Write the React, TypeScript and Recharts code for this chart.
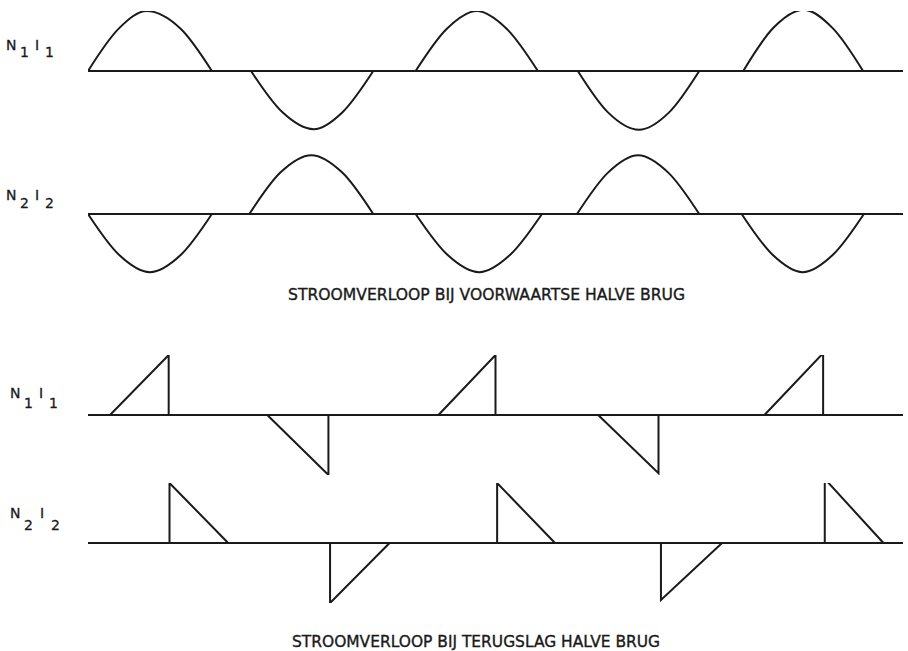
import { LineChart, Line, XAxis, YAxis } from 'recharts';

// time axis in arbitrary units (0..50), amplitude normalised to ±1
const baseline = [
  { t: 0, v: 0 },
  { t: 50, v: 0 },
];

// forward half bridge: sine-shaped current pulses
// (start, quarter, peak, three-quarter, end per pulse)
const fwdN1I1 = [
  { t: 0, v: 0 }, { t: 1.9, v: 0.71 }, { t: 3.6, v: 1 }, { t: 5.7, v: 0.7 }, { t: 7.6, v: 0 }, { t: 8.8, v: null },
  { t: 10.0, v: 0 }, { t: 11.9, v: -0.68 }, { t: 13.85, v: -0.97 }, { t: 15.6, v: -0.69 }, { t: 17.5, v: 0 }, { t: 18.8, v: null },
  { t: 20.1, v: 0 }, { t: 22.0, v: 0.7 }, { t: 23.85, v: 1 }, { t: 25.7, v: 0.7 }, { t: 27.6, v: 0 }, { t: 28.8, v: null },
  { t: 30.05, v: 0 }, { t: 31.9, v: -0.69 }, { t: 33.8, v: -0.98 }, { t: 35.65, v: -0.69 }, { t: 37.5, v: 0 }, { t: 38.8, v: null },
  { t: 40.2, v: 0 }, { t: 42.05, v: 0.72 }, { t: 43.9, v: 1.02 }, { t: 45.7, v: 0.71 }, { t: 47.55, v: 0 },
];

const fwdN2I2 = [
  { t: 0, v: 0 }, { t: 1.9, v: -0.68 }, { t: 3.8, v: -0.97 }, { t: 5.7, v: -0.68 }, { t: 7.6, v: 0 }, { t: 8.8, v: null },
  { t: 9.9, v: 0 }, { t: 11.8, v: 0.69 }, { t: 13.7, v: 0.98 }, { t: 15.6, v: 0.69 }, { t: 17.5, v: 0 }, { t: 18.8, v: null },
  { t: 20.1, v: 0 }, { t: 22.05, v: -0.68 }, { t: 24.0, v: -0.97 }, { t: 25.9, v: -0.68 }, { t: 27.85, v: 0 }, { t: 28.8, v: null },
  { t: 30.0, v: 0 }, { t: 31.9, v: 0.69 }, { t: 33.75, v: 0.98 }, { t: 35.6, v: 0.69 }, { t: 37.5, v: 0 }, { t: 38.8, v: null },
  { t: 40.1, v: 0 }, { t: 42.0, v: -0.68 }, { t: 43.85, v: -0.97 }, { t: 45.7, v: -0.68 }, { t: 47.6, v: 0 },
];

// flyback half bridge: sawtooth current pulses
const flyN1I1 = [
  { t: 1.35, v: 0 }, { t: 4.95, v: 1 }, { t: 4.95, v: 0 }, { t: 8, v: null },
  { t: 11.0, v: 0 }, { t: 14.75, v: -1 }, { t: 14.75, v: 0 }, { t: 18, v: null },
  { t: 21.5, v: 0 }, { t: 25.0, v: 1 }, { t: 25.0, v: 0 }, { t: 28, v: null },
  { t: 31.3, v: 0 }, { t: 35.0, v: -0.97 }, { t: 35.0, v: 0 }, { t: 38, v: null },
  { t: 41.5, v: 0 }, { t: 45.1, v: 1.03 }, { t: 45.1, v: 0 },
];

const flyN2I2 = [
  { t: 5.0, v: 0 }, { t: 5.0, v: 1 }, { t: 8.6, v: 0 }, { t: 11, v: null },
  { t: 14.85, v: 0 }, { t: 14.85, v: -1 }, { t: 18.5, v: 0 }, { t: 21, v: null },
  { t: 25.1, v: 0 }, { t: 25.1, v: 1 }, { t: 28.65, v: 0 }, { t: 31, v: null },
  { t: 35.15, v: 0 }, { t: 35.15, v: -0.95 }, { t: 38.9, v: 0 }, { t: 41, v: null },
  { t: 45.2, v: 0 }, { t: 45.2, v: 1.07 }, { t: 48.8, v: 0 },
];

const captions = [
  'STROOMVERLOOP BIJ VOORWAARTSE HALVE BRUG',
  'STROOMVERLOOP BIJ TERUGSLAG HALVE BRUG',
];

const INK = '#1a1a1a';
const FONT = '"DejaVu Sans", sans-serif';

function Trace({ top, data, curve }: { top: number; data: any[]; curve: 'monotone' | 'linear' }) {
  return (
    <div style={{ position: 'absolute', left: 0, top: top - 6 }}>
      <LineChart width={908} height={132} margin={{ top: 6, right: 5, bottom: 6, left: 88 }}>
        <XAxis type="number" dataKey="t" domain={[0, 50]} hide allowDataOverflow />
        <YAxis type="number" domain={[-1, 1]} hide allowDataOverflow />
        <Line data={baseline} dataKey="v" type="linear" stroke={INK} strokeWidth={2} dot={false} isAnimationActive={false} />
        <Line data={data} dataKey="v" type={curve} stroke={INK} strokeWidth={2} dot={false} isAnimationActive={false} />
      </LineChart>
    </div>
  );
}

// N, subscript, I, subscript — x positions and baselines
function RowLabel({ x, y, sub, dy = 8, ix = 29, sx = 39 }: { x: number; y: number; sub: string; dy?: number; ix?: number; sx?: number }) {
  return (
    <g fill={INK} fontFamily={FONT} fontSize={14} stroke={INK} strokeWidth={0.3}>
      <text x={x} y={y}>N</text>
      <text x={x + 14} y={y + dy}>{sub}</text>
      <text x={x + ix} y={y}>I</text>
      <text x={x + sx} y={y + dy}>{sub}</text>
    </g>
  );
}

export default function App() {
  return (
    <div style={{ position: 'absolute', left: 0, top: 0, width: 908, height: 651, background: '#fff', overflow: 'hidden' }}>
      <Trace top={11} data={fwdN1I1} curve="monotone" />
      <Trace top={154} data={fwdN2I2} curve="monotone" />
      <Trace top={355} data={flyN1I1} curve="linear" />
      <Trace top={483} data={flyN2I2} curve="linear" />
      <svg width={908} height={651} style={{ position: 'absolute', left: 0, top: 0, pointerEvents: 'none' }}>
        <RowLabel x={6} y={50} sub="1" dy={7} />
        <RowLabel x={6} y={200} sub="2" dy={8} />
        <RowLabel x={10} y={398} sub="1" dy={10} />
        <RowLabel x={10} y={518} sub="2" dy={12} ix={30} sx={41} />
        <text x={288} y={300} fill={INK} stroke={INK} strokeWidth={0.35} fontFamily={FONT} fontSize={15} textLength={397} lengthAdjust="spacingAndGlyphs">
          {captions[0]}
        </text>
        <text x={292} y={647} fill={INK} stroke={INK} strokeWidth={0.35} fontFamily={FONT} fontSize={15} textLength={368} lengthAdjust="spacingAndGlyphs">
          {captions[1]}
        </text>
      </svg>
    </div>
  );
}
